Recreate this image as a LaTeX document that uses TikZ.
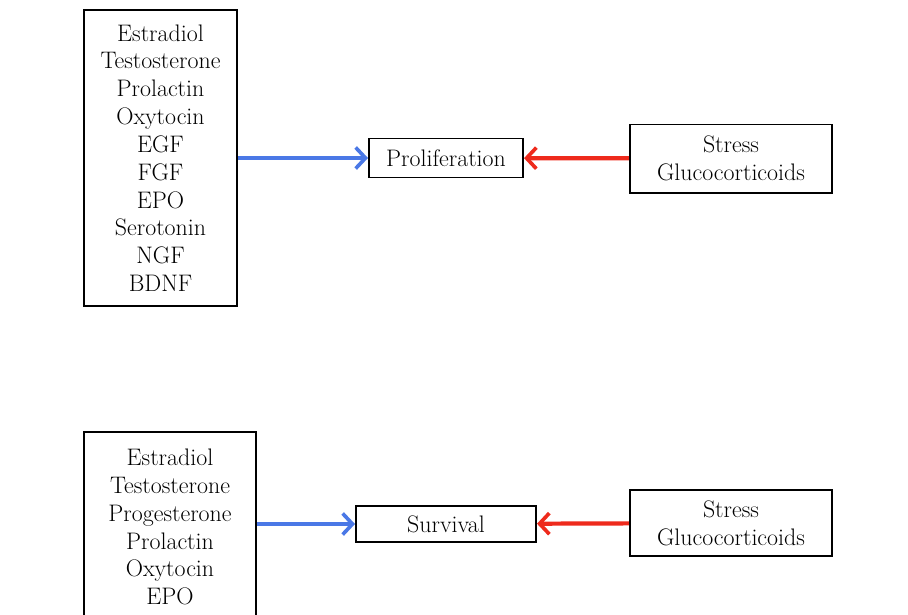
\documentclass[tikz,border=0pt]{standalone}
\usetikzlibrary{arrows.meta}
\definecolor{NeuroBlue}{HTML}{4A78E6}
\definecolor{NeuroRed}{HTML}{EE2A1C}
\tikzset{
  neurobox/.style={
    draw=black,
    line width=1.4pt,
    fill=white,
    align=center,
    inner sep=0pt,
    font=\fontsize{17}{19.8}\selectfont
  },
  neuropro/.style={-{Straight Barb[length=7pt,width=15pt,line width=2.6pt]},draw=NeuroBlue,line width=3pt},
  neuroanti/.style={-{Straight Barb[length=7pt,width=15pt,line width=2.6pt]},draw=NeuroRed,line width=3pt}
}

\begin{document}
\begin{tikzpicture}[x=0.025cm,y=-0.025cm]
  \useasboundingbox (0,0) rectangle (908,614);
  % proliferation
  \node[neurobox,minimum width=3.825cm,minimum height=7.4cm] (hormP) at (160.5,158)
    {Estradiol\\Testosterone\\Prolactin\\Oxytocin\\EGF\\FGF\\EPO\\Serotonin\\NGF\\BDNF};
  \node[neurobox,minimum width=3.85cm,minimum height=0.975cm] (prolif) at (446,158) {Proliferation};
  \node[neurobox,minimum width=5.05cm,minimum height=1.7cm] (stressP) at (731,158.5) {Stress\\Glucocorticoids};
  \draw[neuropro] (hormP) -- (prolif);
  \draw[neuroanti] (stressP) -- (prolif);
  % survival
  \node[neurobox,minimum width=4.3cm,minimum height=4.75cm] (hormS) at (170,527)
    {Estradiol\\Testosterone\\Progesterone\\Prolactin\\Oxytocin\\EPO};
  \node[neurobox,minimum width=4.5cm,minimum height=0.9cm] (surv) at (446,524) {Survival};
  \node[neurobox,minimum width=5.05cm,minimum height=1.65cm] (stressS) at (731,523) {Stress\\Glucocorticoids};
  \draw[neuropro] (hormS.east |- surv.west) -- (surv.west);
  \draw[neuroanti] (stressS) -- (surv);
\end{tikzpicture}
\end{document}
